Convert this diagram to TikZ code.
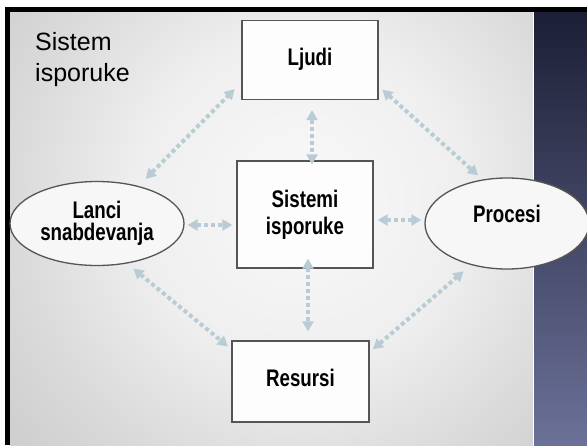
\documentclass[tikz,border=0pt]{standalone}
\usepackage{fontspec}
\setmainfont{Liberation Sans}
\newfontfamily\condbold[FakeStretch=0.78]{Liberation Sans Bold}
\usetikzlibrary{arrows.meta,shapes.geometric}

\definecolor{edgegray}{HTML}{555555}
\definecolor{boxwhite}{HTML}{FDFDFD}
\definecolor{ovalwhite}{HTML}{F7F7F7}
\definecolor{linkblue}{HTML}{B9CCD6}
\definecolor{navytop}{HTML}{1C1F35}
\definecolor{navybot}{HTML}{6B7198}
\definecolor{glowA}{HTML}{F9F9F9}
\definecolor{glowB}{HTML}{EFEFEF}
\definecolor{glowC}{HTML}{DADADA}
\definecolor{glowD}{HTML}{C0C0C0}
\definecolor{glowE}{HTML}{B0B0B0}
\definecolor{glowF}{HTML}{A4A4A4}
\definecolor{glowG}{HTML}{9E9E9E}

% soft light spot behind the diagram
\pgfdeclareradialshading{panelglow}{\pgfpoint{0bp}{0bp}}{%
  color(0bp)=(glowA); color(10bp)=(glowB); color(18bp)=(glowC);
  color(30bp)=(glowD); color(34bp)=(glowE); color(43bp)=(glowF);
  color(50bp)=(glowG)}

\tikzset{
  labelfont/.style={font=\fontsize{24}{27}\selectfont\condbold},
  box/.style={draw=edgegray, line width=1.3pt, fill=boxwhite, rectangle,
    align=center, inner sep=0pt, labelfont},
  oval/.style={draw=edgegray, line width=1.3pt, fill=ovalwhite, ellipse,
    align=center, inner sep=0pt, labelfont},
  oneline/.style={text height=17.2pt, text depth=7pt},
  link/.style={draw=linkblue, line width=4pt, dash pattern=on 4pt off 3pt,
    {Triangle[length=10pt,width=11pt]}-{Triangle[length=10pt,width=11pt]}}
}

\begin{document}
\begin{tikzpicture}[x=1pt,y=-1pt]
\useasboundingbox (0,0) rectangle (587,445);
\fill[white] (0,0) rectangle (587,445);

% grey panel with its light centre
\begin{scope}
  \clip (10,12) rectangle (533,445);
  \shade[shading=panelglow] (300,200) circle[radius=400];
\end{scope}

% dark side strip
\shade[top color=navytop, bottom color=navybot] (534,12) rectangle (587,445);
\draw[white, line width=1.5pt] (533.5,12) -- (533.5,445);

% black frame edges
\fill[black] (5,7) rectangle (587,12);
\fill[black] (5,7) rectangle (10,445);

% title
\node[anchor=north west, inner sep=0pt, align=left,
      font=\fontsize{25}{31}\selectfont] (title) at (35,32) {Sistem\\isporuke};

% nodes
\node[box, oneline, minimum width=136pt, minimum height=79pt] (ljudi) at (310,60) {Ljudi};
\node[box, minimum width=136pt, minimum height=107pt] (sis) at (305,214.5) {Sistemi\\isporuke};
\node[box, oneline, minimum width=137pt, minimum height=81pt] (res) at (300.5,381.5) {Resursi};
\node[oval, minimum width=174pt, minimum height=84pt,
      font=\fontsize{24}{22.5}\selectfont\condbold] (lanci) at (97,223.5) {Lanci\\snabdevanja};
\node[oval, text height=17.2pt, text depth=20pt,
      minimum width=164pt, minimum height=91pt] (proc) at (507,223.5) {Procesi};

% connectors
\draw[link, shorten <=10pt, shorten >=-4pt] ([xshift=2pt]ljudi.south) -- ([xshift=7pt]sis.north);
\draw[link, shorten <=-10pt, shorten >=9pt] ([xshift=3pt]sis.south) -- ([xshift=7.5pt]res.north);
\draw[link, shorten <=3pt, shorten >=4pt] ([yshift=-1.5pt]lanci.east) -- ([yshift=-10.5pt]sis.west);
\draw[link, shorten <=4pt, shorten >=3pt] ([yshift=-5.5pt]sis.east) -- ([yshift=3.5pt]proc.west);
\draw[link, shorten <=10pt, shorten >=9.5pt] (lanci.42.5) -- (ljudi.198);
\draw[link, shorten <=5pt, shorten >=6pt] (ljudi.339.7) -- (proc.119.1);
\draw[link, shorten <=8pt, shorten >=4.5pt] (lanci.307.3) -- (res.155.2);
\draw[link, shorten <=4.3pt, shorten >=9.6pt] (res.23.5) -- (proc.229.8);
\end{tikzpicture}
\end{document}
